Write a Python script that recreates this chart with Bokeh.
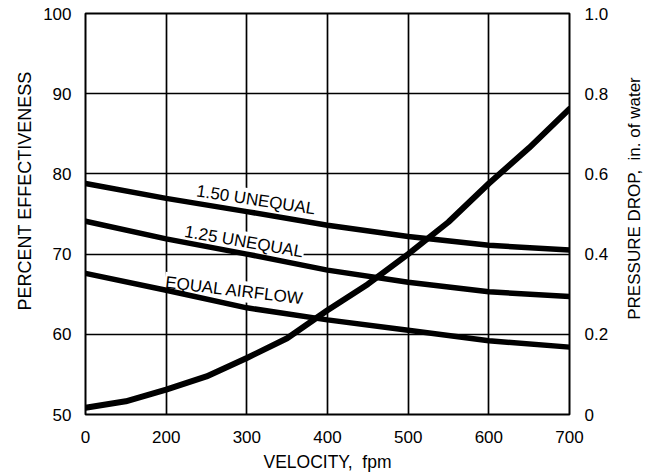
import math
from bokeh.plotting import figure
from bokeh.layouts import row
from bokeh.models import Range1d, LinearAxis, FixedTicker, ColumnDataSource, Label
from bokeh.core.properties import value
from bokeh.embed import file_html
from bokeh.resources import INLINE

# ---- data ----
velocity = [100, 200, 300, 400, 500, 600, 700]
eff_150_unequal = [78.8, 76.95, 75.3, 73.6, 72.2, 71.1, 70.5]
eff_125_unequal = [74.1, 71.9, 70.0, 68.0, 66.5, 65.3, 64.7]
eff_equal = [67.6, 65.5, 63.3, 61.8, 60.5, 59.2, 58.4]

velocity_p = [100, 150, 200, 250, 300, 350, 400, 450, 500, 550, 600, 650, 700]
pressure_drop = [0.017, 0.033, 0.062, 0.095, 0.141, 0.19, 0.26, 0.325, 0.40, 0.48, 0.576, 0.665, 0.762]

x_ticks = [100, 200, 300, 400, 500, 600, 700]
x_tick_labels = ["0", "200", "300", "400", "500", "600", "700"]
y_ticks = [50, 60, 70, 80, 90, 100]
p_ticks = [0, 0.2, 0.4, 0.6, 0.8, 1.0]
p_tick_labels = ["0", "0.2", "0.4", "0.6", "0.8", "1.0"]

curve_labels = ["1.50 UNEQUAL", "1.25 UNEQUAL", "EQUAL AIRFLOW"]
label_x = [236.4, 221.9, 197.9]
label_y = [77.9, 72.85, 66.5]
label_angle_deg = [-8.7, -9.9, -6.8]

y_title = "PERCENT EFFECTIVENESS"
y2_title = "PRESSURE DROP,\u00a0\u00a0in. of water"
x_title = "VELOCITY,\u00a0\u00a0fpm"

FONT = "Liberation Sans"
H = 474
LEFT_W = 40
RIGHT_W = 25
BORDER_BOTTOM = 59
FRAME_BOTTOM = H - BORDER_BOTTOM

p = figure(width=647 - LEFT_W - RIGHT_W, height=H, output_backend="svg", toolbar_location=None,
           x_range=Range1d(100, 700), y_range=Range1d(50, 100),
           min_border_left=85 - LEFT_W, min_border_top=13,
           min_border_right=647 - RIGHT_W - 569, min_border_bottom=BORDER_BOTTOM)
p.extra_y_ranges = {"pd": Range1d(0, 1.0)}

p.outline_line_color = "black"
p.outline_line_width = 2
p.background_fill_color = "white"
p.border_fill_color = "white"

# grids
p.xgrid.ticker = FixedTicker(ticks=x_ticks)
p.ygrid.ticker = FixedTicker(ticks=y_ticks)
for g in (p.xgrid, p.ygrid):
    g.grid_line_color = "black"
    g.grid_line_width = 1.7
    g.grid_line_alpha = 1.0

def style_axis(ax):
    ax.axis_line_color = None
    ax.major_tick_line_color = None
    ax.minor_tick_line_color = None
    ax.major_label_text_font = FONT
    ax.major_label_text_font_size = "17px"
    ax.major_label_text_color = "black"
    ax.axis_label_text_font = FONT
    ax.axis_label_text_font_size = "17.5px"
    ax.axis_label_text_font_style = "normal"
    ax.axis_label_text_color = "black"

xa = p.xaxis[0]
style_axis(xa)
xa.ticker = FixedTicker(ticks=x_ticks)
xa.major_label_overrides = {t: l for t, l in zip(x_ticks, x_tick_labels)}
xa.axis_label = x_title
xa.major_label_standoff = 10
xa.axis_label_standoff = 6

ya = p.yaxis[0]
style_axis(ya)
ya.ticker = FixedTicker(ticks=y_ticks)
ya.major_label_standoff = 8

ra = LinearAxis(y_range_name="pd")
style_axis(ra)
ra.ticker = FixedTicker(ticks=p_ticks)
ra.major_label_overrides = {t: l for t, l in zip(p_ticks, p_tick_labels)}
ra.major_label_standoff = 9
p.add_layout(ra, "right")

# curve labels (white background masks grid lines)
lab_src = ColumnDataSource(dict(x=label_x, y=label_y, text=curve_labels,
                                angle=[math.radians(a) for a in label_angle_deg]))
p.text(x="x", y="y", text="text", angle="angle", source=lab_src,
       text_font=value(FONT), text_font_size="17px", text_color="black",
       text_align="left", text_baseline="alphabetic",
       background_fill_color="white", padding=1)

lw = 5.5
p.line(velocity, eff_150_unequal, line_color="black", line_width=lw, line_cap="round")
p.line(velocity, eff_125_unequal, line_color="black", line_width=lw, line_cap="round")
p.line(velocity, eff_equal, line_color="black", line_width=lw, line_cap="round")
p.line(velocity_p, pressure_drop, y_range_name="pd", line_color="black", line_width=6, line_cap="round")


def title_strip(width, text, sx, sy_from_top, size):
    # the row aligns this strip's frame with the main plot's frame (bottom at FRAME_BOTTOM)
    f = figure(width=width, height=H, output_backend="svg", toolbar_location=None,
               x_axis_type=None, y_axis_type=None,
               x_range=Range1d(0, 1), y_range=Range1d(0, 1),
               min_border_left=0, min_border_right=0, min_border_top=0, min_border_bottom=0)
    f.outline_line_color = None
    f.grid.visible = False
    f.background_fill_color = "white"
    f.border_fill_color = "white"
    f.add_layout(Label(x=sx, y=FRAME_BOTTOM - sy_from_top, x_units="screen", y_units="screen",
                       text=text, angle=math.pi / 2, text_align="center", text_baseline="middle",
                       text_font=FONT, text_font_size=size, text_color="black"))
    return f

left_strip = title_strip(LEFT_W, y_title, 24, 191.5, "18px")
right_strip = title_strip(RIGHT_W, y2_title, 633.5 - (647 - RIGHT_W), 199, "17px")

layout = row(left_strip, p, right_strip, spacing=0)
open("out.html", "w").write(file_html(layout, INLINE))
